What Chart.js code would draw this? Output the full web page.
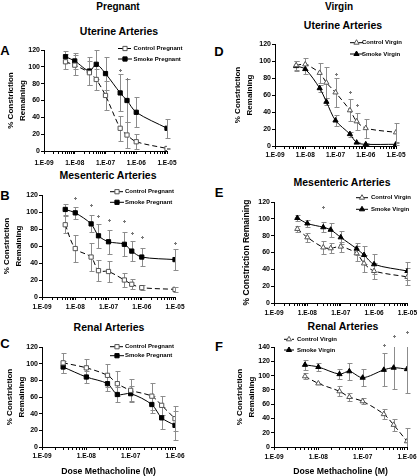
<!DOCTYPE html>
<html lang="en">
<head>
<meta charset="UTF-8">
<title>Methacholine dose response</title>
<script src="https://cdn.jsdelivr.net/npm/chart.js"></script>
<style>
  html, body { margin: 0; padding: 0; background: #fff; }
  #page { position: relative; width: 420px; height: 476px; overflow: hidden; font-family: "Liberation Sans", Arial, sans-serif; }
  #page canvas { position: absolute; left: 0; top: 0; }
  .lbl { position: absolute; transform: translate(-50%, -50%); font-weight: bold; white-space: nowrap; color: #000; }
  .head { font-size: 10px; }
  .sub { font-size: 10.5px; }
  .letter { font-size: 13px; }
</style>
</head>
<body>
<div id="page">
  <div class="lbl head" style="left:118px;top:6px">Pregnant</div>
  <div class="lbl head" style="left:339px;top:6px">Virgin</div>
  <div class="lbl sub" style="left:119px;top:31px">Uterine Arteries</div>
  <div class="lbl sub" style="left:343px;top:25px">Uterine Arteries</div>
  <div class="lbl sub" style="left:108px;top:175px">Mesenteric Arteries</div>
  <div class="lbl sub" style="left:342px;top:182px">Mesenteric Arteries</div>
  <div class="lbl sub" style="left:109px;top:327px">Renal Arteries</div>
  <div class="lbl sub" style="left:343px;top:326px">Renal Arteries</div>
  <div class="lbl letter" style="left:5px;top:50px">A</div>
  <div class="lbl letter" style="left:5px;top:195px">B</div>
  <div class="lbl letter" style="left:5px;top:343px">C</div>
  <div class="lbl letter" style="left:219px;top:51px">D</div>
  <div class="lbl letter" style="left:219px;top:192px">E</div>
  <div class="lbl letter" style="left:219px;top:346px">F</div>
  <canvas id="cA" width="420" height="476"></canvas>
  <canvas id="cB" width="420" height="476"></canvas>
  <canvas id="cC" width="420" height="476"></canvas>
  <canvas id="cD" width="420" height="476"></canvas>
  <canvas id="cE" width="420" height="476"></canvas>
  <canvas id="cF" width="420" height="476"></canvas>
</div>

<script>
// doses (M)
const doses = [5e-9, 1e-8, 3e-8, 5e-8, 1e-7, 3e-7, 5e-7, 1e-6, 1e-5];
const dosesRenalPreg = [3e-9, 1e-8, 3e-8, 5e-8, 1e-7, 3e-7, 5e-7, 1e-6];
const dosesRenalVirg = [5e-9, 1e-8, 3e-8, 5e-8, 1e-7, 3e-7, 5e-7, 1e-6];

// x axis decades and labels
const decades4 = [-9, -8, -7, -6, -5];
const decades3 = [-9, -8, -7, -6];
const tickLabels4 = ['1.E-09', '1.E-08', '1.E-07', '1.E-06', '1.E-05'];
const tickLabels3 = ['1.E-09', '1.E-08', '1.E-07', '1.E-06'];

// A - uterine, pregnant
const uterPregCtrl = [106, 102, 93, 85, 66, 27, 19, 11, 3];
const uterPregCtrlErr = [9, 12, 14, 13, 17, 15, 15, 9, 1];
const uterPregSmoke = [112, 107, 95, 103, 92, 69, 60, 46, 27];
const uterPregSmokeErr = [7, 9, 17, 17, 20, 22, 26, 18, 11];
const uterPregSig = [null, null, null, null, null, 96, 86, null, null];

// B - mesenteric, pregnant
const mesPregCtrl = [85, 57, 47, 31, 30, 20, 15, 11, 9];
const mesPregCtrlErr = [10, 16, 16, 12, 12, 8, 6, 3, 3];
const mesPregSmoke = [103, 99, 86, 72, 65, 62, 54, 47, 44];
const mesPregSmokeErr = [6, 7, 10, 14, 14, 14, 12, 11, 12];
const mesPregSig = [null, 116, 108, 95, 91, 89, 75, 71, 64];

// C - renal, pregnant
const renPregCtrl = [101, 95, 86, 76, 68, 61, 50, 34];
const renPregCtrlErr = [12, 11, 14, 15, 14, 16, 11, 15];
const renPregSmoke = [96, 84, 76, 63, 64, 51, 35, 26];
const renPregSmokeErr = [7, 7, 9, 9, 9, 10, 13, 17];

// D - uterine, virgin
const uterVirgCtrl = [95, 96, 86, 74.5, 63, 42, 29, 21, 16];
const uterVirgCtrlErr = [5, 7, 12, 18, 17, 13, 10, 11, 11];
const uterVirgSmoke = [94, 90.5, 68, 52, 30, 14, 4, 2, 2];
const uterVirgSmokeErr = [6, 6, 4, 4, 6, 3, 1, 1, 1];
const uterVirgSig = [null, null, null, null, 85, 64, 48, null, null];

// E - mesenteric, virgin
const mesVirgCtrl = [88, 78, 66, 65, 67, 59, 47, 38, 31];
const mesVirgCtrlErr = [4, 5, 8, 6, 6, 9, 10, 9, 10];
const mesVirgSmoke = [101, 94.5, 90, 87, 78, 64.5, 57, 46, 38];
const mesVirgSmokeErr = [4, 4, 6, 8, 8, 7, 11, 12, 11];
const mesVirgSig = [null, null, 114, null, null, null, null, null, null];

// F - renal, virgin
const renVirgCtrl = [99, 89, 78, 70, 64, 46, 31, 8];
const renVirgCtrlErr = [4, 1, 7, 6, 4, 7, 8, 19];
const renVirgSmoke = [115, 112, 102, 106, 97, 108, 111, 109];
const renVirgSmokeErr = [7, 5, 7, 12, 12, 23, 30, 34];
const renVirgSig = [null, null, null, null, null, 143, 156, 161];

const FONT = '"Liberation Sans", Arial, sans-serif';

function toXY(xs, ys) {
    return xs.map((x, i) => ({ x: x, y: ys[i] })).filter(p => p.y !== null);
}

function drawMarker(ctx, style, r, x, y) {
    ctx.beginPath();
    if (style === 'triangle') {
        ctx.moveTo(x, y - r);
        ctx.lineTo(x + r * 0.866, y + r / 2);
        ctx.lineTo(x - r * 0.866, y + r / 2);
        ctx.closePath();
    } else {
        const h = r / Math.SQRT2;
        ctx.rect(x - h, y - h, 2 * h, 2 * h);
    }
    ctx.fill();
    ctx.stroke();
}

// vertical error bars and significance marks, placed through the scales
const errorBars = {
    id: 'errorBars',
    beforeDatasetsDraw(chart) {
        const { ctx, chartArea, scales: { x, y } } = chart;
        ctx.save();
        ctx.beginPath();
        ctx.rect(chartArea.left - 6, chartArea.top, chartArea.width + 12, chartArea.height);
        ctx.clip();
        ctx.strokeStyle = '#8c8c8c';
        ctx.lineWidth = 1;
        chart.data.datasets.forEach(ds => {
            if (!ds.errors) return;
            ds.data.forEach((pt, i) => {
                const e = ds.errors[i];
                const px = Math.round(x.getPixelForValue(pt.x)) + 0.5;
                const top = Math.round(y.getPixelForValue(pt.y + e)) + 0.5;
                const bot = Math.round(y.getPixelForValue(pt.y - e)) + 0.5;
                ctx.beginPath();
                ctx.moveTo(px, top); ctx.lineTo(px, bot);
                ctx.moveTo(px - 2, top); ctx.lineTo(px + 3, top);
                ctx.moveTo(px - 2, bot); ctx.lineTo(px + 3, bot);
                ctx.stroke();
            });
        });
        ctx.restore();
    },
    afterDatasetsDraw(chart, args, o) {
        if (!o.sig) return;
        const { ctx, scales: { x, y } } = chart;
        ctx.save();
        ctx.strokeStyle = '#777';
        ctx.lineWidth = 1;
        o.sig.forEach((v, i) => {
            if (v === null) return;
            const px = Math.round(x.getPixelForValue(o.xs[i])) + 0.5;
            const py = Math.round(y.getPixelForValue(v)) + 0.5;
            ctx.beginPath();
            ctx.moveTo(px - 1.5, py); ctx.lineTo(px + 1.5, py);
            ctx.moveTo(px, py - 1.5); ctx.lineTo(px, py + 1.5);
            ctx.stroke();
        });
        ctx.restore();
    }
};

// small legend placed by hand like in the original figure
const panelLegend = {
    id: 'panelLegend',
    afterDraw(chart, args, o) {
        const ctx = chart.ctx;
        ctx.save();
        [0, 1].forEach(i => {
            const ds = chart.data.datasets[i];
            const y = o.ys[i];
            ctx.strokeStyle = '#000';
            ctx.lineWidth = 1;
            ctx.setLineDash(ds.borderDash || []);
            ctx.beginPath();
            ctx.moveTo(o.x0, y);
            ctx.lineTo(o.x0 + o.len, y);
            ctx.stroke();
            ctx.setLineDash([]);
            ctx.fillStyle = ds.pointBackgroundColor;
            ctx.strokeStyle = ds.pointBorderColor;
            drawMarker(ctx, ds.pointStyle, ds.pointRadius, o.x0 + o.len / 2, y);
            ctx.fillStyle = '#000';
            ctx.font = 'bold 6px ' + FONT;
            ctx.textBaseline = 'middle';
            ctx.textAlign = 'left';
            ctx.fillText(ds.label, o.tx, y);
        });
        ctx.restore();
    }
};

const panels = [
    { id: 'cA', area: { l: 44, r: 167, t: 50, b: 151 }, ymax: 120, dec: decades4, labels: tickLabels4, xPad: 5,
      x: doses, ctrl: uterPregCtrl, ctrlErr: uterPregCtrlErr, smoke: uterPregSmoke, smokeErr: uterPregSmokeErr, sig: uterPregSig,
      style: 'rect', names: ['Control Pregnant', 'Smoke Pregnant'],
      leg: { x0: 118, len: 14, tx: 133.5, ys: [48.5, 59] },
      yTitle: ['% Constriction', 'Remaining'], yTitleX: 10.5, yTitleSize: 8, yTitleLh: 12, xTitle: false },
    { id: 'cB', area: { l: 42, r: 175, t: 195, b: 297 }, ymax: 120, dec: decades4, labels: tickLabels4, xPad: 3,
      x: doses, ctrl: mesPregCtrl, ctrlErr: mesPregCtrlErr, smoke: mesPregSmoke, smokeErr: mesPregSmokeErr, sig: mesPregSig,
      style: 'rect', names: ['Control Pregnant', 'Smoke Pregnant'],
      leg: { x0: 110, len: 14, tx: 125, ys: [191.7, 202.3] },
      yTitle: ['% Constriction', 'Remaining'], yTitleX: 7, yTitleSize: 8, yTitleLh: 12, xTitle: false },
    { id: 'cC', area: { l: 42, r: 175, t: 347, b: 447 }, ymax: 120, dec: decades3, labels: tickLabels3, xPad: 2,
      x: dosesRenalPreg, ctrl: renPregCtrl, ctrlErr: renPregCtrlErr, smoke: renPregSmoke, smokeErr: renPregSmokeErr, sig: null,
      style: 'rect', names: ['Control Pregnant', 'Smoke Pregnant'],
      leg: { x0: 110, len: 14, tx: 125, ys: [346.7, 355.7] },
      yTitle: ['% Constriction', 'Remaining'], yTitleX: 10, yTitleSize: 8, yTitleLh: 12, xTitle: true },
    { id: 'cD', area: { l: 275, r: 396, t: 44, b: 146 }, ymax: 120, dec: decades4, labels: tickLabels4, xPad: 2,
      x: doses, ctrl: uterVirgCtrl, ctrlErr: uterVirgCtrlErr, smoke: uterVirgSmoke, smokeErr: uterVirgSmokeErr, sig: uterVirgSig,
      style: 'triangle', names: ['Control Virgin', 'Smoke Virgin'],
      leg: { x0: 350, len: 13, tx: 362, ys: [42.7, 54] },
      yTitle: ['% Constriction', 'Remaining'], yTitleX: 238, yTitleSize: 8, yTitleLh: 12, xTitle: false },
    { id: 'cE', area: { l: 274, r: 409, t: 202, b: 303 }, ymax: 120, dec: decades4, labels: tickLabels4, xPad: 3,
      x: doses, ctrl: mesVirgCtrl, ctrlErr: mesVirgCtrlErr, smoke: mesVirgSmoke, smokeErr: mesVirgSmokeErr, sig: mesVirgSig,
      style: 'triangle', names: ['Control Virgin', 'Smoke Virgin'],
      leg: { x0: 356, len: 12, tx: 371, ys: [197.7, 209.3] },
      yTitle: '% Constriction Remaining', yTitleX: 246.7, yTitleSize: 8.5, yTitleLh: 10, xTitle: false },
    { id: 'cF', area: { l: 274, r: 407, t: 347, b: 447 }, ymax: 140, dec: decades3, labels: tickLabels3, xPad: 3,
      x: dosesRenalVirg, ctrl: renVirgCtrl, ctrlErr: renVirgCtrlErr, smoke: renVirgSmoke, smokeErr: renVirgSmokeErr, sig: renVirgSig,
      style: 'triangle', names: ['Control Virgin', 'Smoke Virgin'],
      leg: { x0: 284, len: 10, tx: 297, ys: [339.3, 350] },
      yTitle: ['% Constriction', 'Remaining'], yTitleX: 240, yTitleSize: 8, yTitleLh: 12, xTitle: true }
];

function makeChart(p) {
    const padL = p.yTitleX - p.yTitleLh / 2;
    const datasets = [
        {
            label: p.names[0],
            data: toXY(p.x, p.ctrl),
            errors: p.ctrlErr,
            borderColor: '#000',
            borderWidth: 1,
            borderDash: [5, 3],
            pointStyle: p.style,
            pointRadius: 3,
            pointBackgroundColor: '#fff',
            pointBorderColor: '#555',
            pointBorderWidth: 1,
            tension: 0.3
        },
        {
            label: p.names[1],
            data: toXY(p.x, p.smoke),
            errors: p.smokeErr,
            borderColor: '#000',
            borderWidth: 1,
            pointStyle: p.style,
            pointRadius: 3,
            pointBackgroundColor: '#000',
            pointBorderColor: '#000',
            pointBorderWidth: 1,
            tension: 0.3
        }
    ];

    new Chart(document.getElementById(p.id), {
        type: 'line',
        data: { datasets: datasets },
        plugins: [errorBars, panelLegend],
        options: {
            responsive: false,
            animation: false,
            events: [],
            layout: { padding: { left: padL, right: 420 - p.area.r, top: p.area.t, bottom: 0 } },
            plugins: {
                legend: { display: false },
                tooltip: { enabled: false },
                panelLegend: p.leg,
                errorBars: { sig: p.sig, xs: p.x }
            },
            scales: {
                x: {
                    type: 'logarithmic',
                    min: Math.pow(10, p.dec[0]),
                    max: Math.pow(10, p.dec[p.dec.length - 1]),
                    afterBuildTicks: s => {
                        const t = [];
                        p.dec.forEach((d, i) => {
                            t.push({ value: Math.pow(10, d) });
                            if (i < p.dec.length - 1) {
                                for (let k = 2; k <= 9; k++) t.push({ value: k * Math.pow(10, d) });
                            }
                        });
                        s.ticks = t;
                    },
                    afterFit: s => { s.height = 476 - p.area.b; },
                    ticks: {
                        autoSkip: false,
                        maxRotation: 0,
                        padding: p.xPad,
                        color: '#000',
                        font: { family: FONT, size: 6.5, weight: 'bold' },
                        callback: v => {
                            const e = Math.log10(v);
                            const i = p.dec.findIndex(d => Math.abs(d - e) < 1e-6);
                            return i >= 0 ? p.labels[i] : '';
                        }
                    },
                    grid: { drawOnChartArea: false, tickLength: 3, color: '#000' },
                    border: { color: '#000', width: 1 },
                    title: {
                        display: p.xTitle,
                        text: 'Dose Methacholine (M)',
                        color: '#000',
                        padding: 0,
                        font: { family: FONT, size: 8.7, weight: 'bold', lineHeight: 1 }
                    }
                },
                y: {
                    min: 0,
                    max: p.ymax,
                    afterFit: s => { s.width = p.area.l - padL; },
                    ticks: {
                        stepSize: 20,
                        padding: 1,
                        color: '#000',
                        font: { family: FONT, size: 7, weight: 'bold' }
                    },
                    grid: { drawOnChartArea: false, tickLength: 3, color: '#000' },
                    border: { color: '#000', width: 1 },
                    title: {
                        display: true,
                        text: p.yTitle,
                        color: '#000',
                        padding: 0,
                        font: { family: FONT, size: p.yTitleSize, weight: 'bold', lineHeight: p.yTitleLh + 'px' }
                    }
                }
            }
        }
    });
}

panels.forEach(makeChart);
</script>
</body>
</html>
